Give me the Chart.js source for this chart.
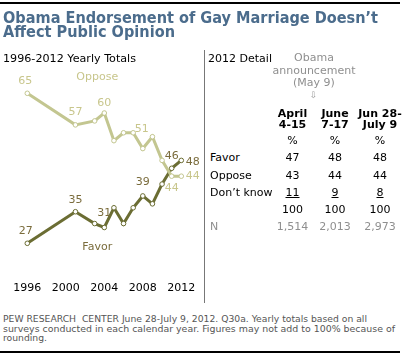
<!DOCTYPE html>
<html>
<head>
<meta charset="utf-8">
<script src="https://cdn.jsdelivr.net/npm/chart.js@4"></script>
<style>
  html, body { margin: 0; padding: 0; background: #fff; }
  body { width: 407px; height: 356px; position: relative; overflow: hidden; font-family: "DejaVu Sans", sans-serif; }
  .t { position: absolute; white-space: pre; }
  .rule { position: absolute; background: #000; }
  #chartBox { position: absolute; left: 0; top: 0; width: 204px; height: 300px; }
</style>
</head>
<body>
<div class="rule" style="left:0;top:2px;width:400px;height:2px"></div>
<div class="rule" style="left:204px;top:50px;width:1px;height:253px;background:#777"></div>
<div class="rule" style="left:0;top:351px;width:400px;height:2px"></div>
<div id="chartBox"><canvas id="c" width="204" height="300"></canvas></div>
<script>
// ---- Data ----
const years = [1996, 2001, 2003, 2004, 2005, 2006, 2007, 2008, 2009, 2010, 2011, 2012];
const oppose = [65, 57, 58, 60, 53, 55, 55, 51, 54, 48, 44, 44];
const favor  = [27, 35, 32, 31, 36, 32, 36, 39, 37, 42, 46, 48];
const xTicks = [1996, 2000, 2004, 2008, 2012];

const detailColumns = [["April", "4-15"], ["June", "7-17"], ["Jun 28-", "July 9"]];
const detailFavor = [47, 48, 48];
const detailOppose = [43, 44, 44];
const detailDontKnow = [11, 9, 8];
const detailTotal = [100, 100, 100];
const detailN = ["1,514", "2,013", "2,973"];

// ---- Styles ----
const OPP_LINE = "#c3c690", FAV_LINE = "#6b6d33";
const OPP_TXT = "#c8c68c", FAV_TXT = "#7a6c3c";

// which points get value labels, with label offsets (style)
const opposeLabelStyle = [
  { i: 0, dx: -2, dy: -12 }, { i: 1, dx: 0, dy: -13 }, { i: 3, dx: 0, dy: -10 },
  { i: 7, dx: -1, dy: -19 }, { i: 10, dx: 0, dy: 12 }, { i: 11, dx: 11.5, dy: 0 }
];
const favorLabelStyle = [
  { i: 0, dx: -1.5, dy: -12 }, { i: 1, dx: 0, dy: -12 }, { i: 3, dx: 0, dy: -14.5 },
  { i: 7, dx: 0, dy: -13.5 }, { i: 10, dx: 0, dy: -12.5 }, { i: 11, dx: 11.5, dy: 1.5 }
];

// ---- Text helper (positions by baseline) ----
function T(text, x, base, o) {
  o = o || {};
  const size = o.size || 11;
  const d = document.createElement("div");
  d.className = "t";
  d.textContent = text;
  d.style.fontSize = size + "px";
  d.style.lineHeight = (size * 1.164) + "px";
  d.style.fontWeight = o.bold ? "bold" : "normal";
  d.style.color = o.color || "#000";
  if (o.family) d.style.fontFamily = o.family;
  if (o.underline) d.style.textDecoration = "underline";
  d.style.top = (base - size * 0.928) + "px";
  document.body.appendChild(d);
  let w = d.getBoundingClientRect().width;
  let sx = 1;
  if (o.width) { sx = o.width / w; w = o.width; }
  let left = x;
  if (o.align === "center") left = x - w / 2;
  else if (o.align === "right") left = x - w;
  d.style.left = left + "px";
  if (sx !== 1) { d.style.transformOrigin = "0 0"; d.style.transform = "scaleX(" + sx + ")"; }
  return d;
}

// Title
T("Obama Endorsement of Gay Marriage Doesn\u2019t", 3, 24, { size: 16, bold: true, color: "#4b6c8c", width: 375 });
T("Affect Public Opinion", 3, 37.5, { size: 16, bold: true, color: "#4b6c8c", width: 172 });
T("1996-2012 Yearly Totals", 3, 63, { size: 11, width: 133 });
T("2012 Detail", 208, 63, { size: 11, width: 64 });
T("Obama", 314, 62, { size: 11, color: "#8f8f8f", align: "center" });
T("announcement", 314, 75, { size: 11, color: "#8f8f8f", align: "center" });
T("(May 9)", 314, 87, { size: 11, color: "#8f8f8f", align: "center" });
T("\u21e9", 313.5, 98, { size: 9, color: "#9a9a9a", align: "center" });

// Detail table
const colX = [292.5, 335, 380];
detailColumns.forEach((c, k) => {
  T(c[0], colX[k], 118, { size: 11, bold: true, align: "center" });
  T(c[1], colX[k], 129.5, { size: 11, bold: true, align: "center" });
  T("%", colX[k], 145, { size: 11, align: "center" });
  T(String(detailFavor[k]), colX[k], 162.5, { size: 11, align: "center" });
  T(String(detailOppose[k]), colX[k], 180.5, { size: 11, align: "center" });
  T(String(detailDontKnow[k]), colX[k], 197.5, { size: 11, align: "center", underline: true });
  T(String(detailTotal[k]), colX[k], 214.5, { size: 11, align: "center" });
  T(detailN[k], colX[k], 231.5, { size: 11, align: "center", color: "#8f8f8f" });
});
T("Favor", 210, 162.5, { size: 11 });
T("Oppose", 210, 180.5, { size: 11 });
T("Don\u2019t know", 210, 197.5, { size: 11 });
T("N", 210, 231.5, { size: 11, color: "#8f8f8f" });

// Footer
T("PEW RESEARCH  CENTER June 28-July 9, 2012. Q30a. Yearly totals based on all", 3, 321.5, { size: 9.5, color: "#555", width: 364 });
T("surveys conducted in each calendar year. Figures may not add to 100% because of", 3, 331.5, { size: 9.5, color: "#555", width: 392 });
T("rounding.", 3, 341, { size: 9.5, color: "#555", width: 44 });

// ---- Chart ----
const labelPlugin = {
  id: "valueLabels",
  afterDatasetsDraw(chart) {
    const ctx = chart.ctx;
    const xs = chart.scales.x, ys = chart.scales.y;
    ctx.save();
    ctx.font = "11px 'DejaVu Sans'";
    ctx.textAlign = "center";
    ctx.textBaseline = "middle";
    const draw = (dsIndex, values, style, color) => {
      const meta = chart.getDatasetMeta(dsIndex);
      ctx.fillStyle = color;
      style.forEach(s => {
        const p = meta.data[s.i];
        ctx.fillText(String(values[s.i]), p.x + s.dx, p.y + s.dy);
      });
    };
    draw(0, oppose, opposeLabelStyle, OPP_TXT);
    draw(1, favor, favorLabelStyle, FAV_TXT);
    // series names
    ctx.fillStyle = OPP_TXT;
    ctx.fillText("Oppose", xs.getPixelForValue(2003.27), ys.getPixelForValue(69.05));
    ctx.fillStyle = FAV_TXT;
    ctx.fillText("Favor", xs.getPixelForValue(2003.27), ys.getPixelForValue(26));
    // x-axis tick labels, placed through the x scale
    ctx.fillStyle = "#000";
    xTicks.forEach(v => {
      ctx.fillText(String(v), xs.getPixelForValue(v), chart.chartArea.bottom + 45);
    });
    ctx.restore();
  }
};

new Chart(document.getElementById("c"), {
  type: "line",
  data: {
    datasets: [
      {
        label: "Oppose",
        data: years.map((y, i) => ({ x: y, y: oppose[i] })),
        borderColor: OPP_LINE, borderWidth: 3,
        pointRadius: 2.3, pointBorderWidth: 1, pointBackgroundColor: "#fff", pointBorderColor: OPP_LINE,
        tension: 0, clip: false
      },
      {
        label: "Favor",
        data: years.map((y, i) => ({ x: y, y: favor[i] })),
        borderColor: FAV_LINE, borderWidth: 3,
        pointRadius: 2.3, pointBorderWidth: 1, pointBackgroundColor: "#fff", pointBorderColor: FAV_LINE,
        tension: 0, clip: false
      }
    ]
  },
  options: {
    responsive: false,
    animation: false,
    events: [],
    layout: { padding: { left: 27.3, right: 22.7, top: 93.3, bottom: 56.7 } },
    plugins: { legend: { display: false }, tooltip: { enabled: false } },
    scales: {
      x: { type: "linear", display: false, min: 1996, max: 2012 },
      y: { display: false, min: 27, max: 65 }
    }
  },
  plugins: [labelPlugin]
});
</script>
</body>
</html>
